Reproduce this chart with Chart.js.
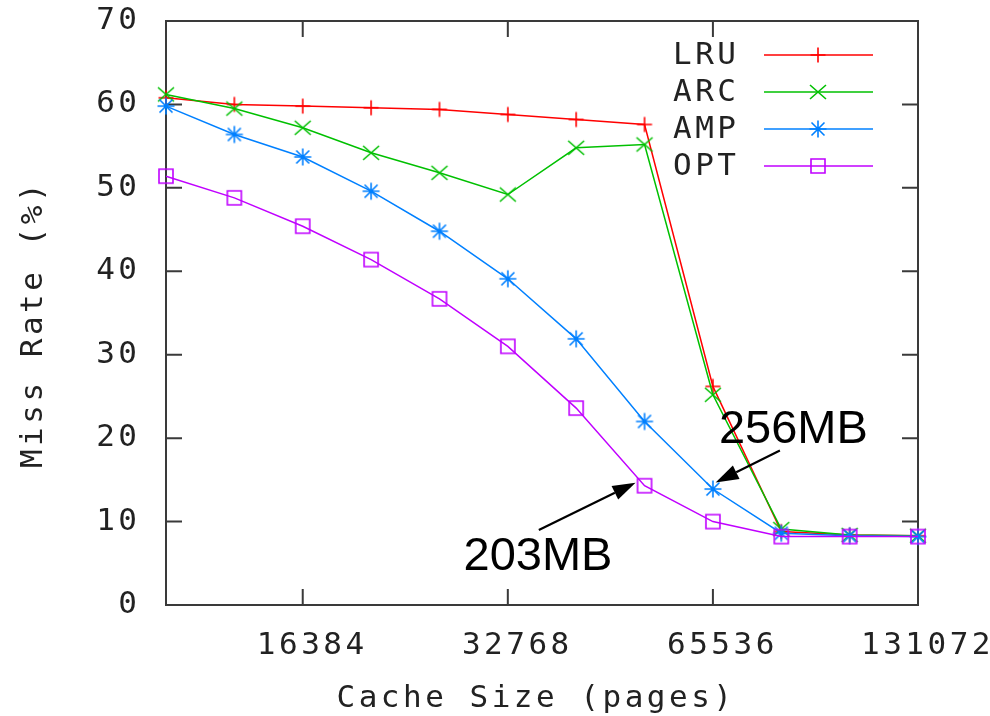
<!DOCTYPE html>
<html>
<head>
<meta charset="utf-8">
<script src="https://cdn.jsdelivr.net/npm/chart.js@4.4.1/dist/chart.umd.min.js"></script>
<style>
html,body{margin:0;padding:0;background:#ffffff;}
canvas{display:block;}
</style>
</head>
<body>
<canvas id="c" width="990" height="716"></canvas>
<script>
// ---- data ----
const cacheSizes = [10321, 13004, 16384, 20643, 26008, 32768, 41285, 52016, 65536, 82570, 104032, 131072];
const lruMiss = [60.8, 60.0, 59.8, 59.6, 59.4, 58.8, 58.2, 57.6, 26.2, 8.8, 8.4, 8.3];
const arcMiss = [61.2, 59.5, 57.2, 54.2, 51.8, 49.2, 54.8, 55.2, 25.2, 9.1, 8.4, 8.3];
const ampMiss = [59.8, 56.4, 53.7, 49.6, 44.8, 39.1, 31.9, 22.0, 13.9, 8.6, 8.3, 8.2];
const optMiss = [51.4, 48.8, 45.4, 41.4, 36.7, 31.0, 23.6, 14.3, 10.0, 8.2, 8.2, 8.2];
const seriesNames = ['LRU', 'ARC', 'AMP', 'OPT'];
const xTickValues = [16384, 32768, 65536, 131072];
const yTickValues = [0, 10, 20, 30, 40, 50, 60, 70];
const xTitle = 'Cache Size (pages)';
const yTitle = 'Miss Rate (%)';
const annotationTexts = ['256MB', '203MB'];

// ---- styling ----
const MONO = "'DejaVu Sans Mono', 'Liberation Mono', monospace";
const TEXT_SIZE = 31;
const SPACING = '3.5px';
const TEXT_COLOR = '#222222';
const FRAME_COLOR = '#3a3a3a';
const colors = ['#ff0000', '#00c000', '#0080ff', '#c000ff'];

function makeMarker(kind, color) {
  const c = document.createElement('canvas');
  c.width = 24; c.height = 24;
  const g = c.getContext('2d');
  g.strokeStyle = color; g.fillStyle = color; g.lineWidth = 1.6;
  const m = 12;
  g.beginPath();
  if (kind === 'plus') { g.moveTo(m - 7.5, m); g.lineTo(m + 7.5, m); g.moveTo(m, m - 7.5); g.lineTo(m, m + 7.5); }
  if (kind === 'star') { g.moveTo(m - 8.5, m); g.lineTo(m + 8.5, m); g.moveTo(m, m - 8.5); g.lineTo(m, m + 8.5);
                         g.moveTo(m - 6.5, m - 6.5); g.lineTo(m + 6.5, m + 6.5); g.moveTo(m - 6.5, m + 6.5); g.lineTo(m + 6.5, m - 6.5); }
  if (kind === 'cross') { g.moveTo(m - 8, m - 7); g.lineTo(m + 8, m + 7); g.moveTo(m - 8, m + 7); g.lineTo(m + 8, m - 7); }
  if (kind === 'square') { g.rect(m - 7, m - 7, 14, 14); }
  g.stroke();
  if (kind === 'star') { g.beginPath(); g.arc(m, m, 2.3, 0, Math.PI * 2); g.fill(); }
  return c;
}
const markerKinds = ['plus', 'cross', 'star', 'square'];
const seriesValues = [lruMiss, arcMiss, ampMiss, optMiss];

const datasets = seriesValues.map((vals, i) => ({
  label: seriesNames[i],
  data: cacheSizes.map((x, k) => ({ x: x, y: vals[k] })),
  borderColor: colors[i],
  backgroundColor: colors[i],
  borderWidth: 1.5,
  tension: 0,
  pointStyle: makeMarker(markerKinds[i], colors[i]),
  pointRadius: 8,
  pointHoverRadius: 8,
  clip: false,
  order: 4 - i
}));

function arrow(ctx, x1, y1, x2, y2) {
  const ang = Math.atan2(y2 - y1, x2 - x1);
  const hl = 23, hw = 7.5;
  const bx = x2 - hl * Math.cos(ang), by = y2 - hl * Math.sin(ang);
  ctx.beginPath();
  ctx.moveTo(x1, y1); ctx.lineTo(bx, by);
  ctx.lineWidth = 2.2; ctx.strokeStyle = '#000'; ctx.stroke();
  ctx.beginPath();
  ctx.moveTo(x2, y2);
  ctx.lineTo(bx + hw * Math.sin(ang), by - hw * Math.cos(ang));
  ctx.lineTo(bx - hw * Math.sin(ang), by + hw * Math.cos(ang));
  ctx.closePath(); ctx.fillStyle = '#000'; ctx.fill();
}

function zeroPad(s) {
  s.paddingLeft = 0; s.paddingRight = 0; s.paddingTop = 0; s.paddingBottom = 0;
}

const deco = {
  id: 'gnuplotDeco',
  beforeUpdate(chart) { chart.ctx.letterSpacing = SPACING; },
  beforeLayout(chart) { chart.ctx.letterSpacing = SPACING; },
  beforeDraw(chart) { chart.ctx.letterSpacing = SPACING; },
  beforeDatasetsDraw(chart) {
    const ctx = chart.ctx, a = chart.chartArea;
    const xs = chart.scales.x, ys = chart.scales.y;
    ctx.save();
    ctx.strokeStyle = FRAME_COLOR;
    ctx.lineWidth = 2;
    ctx.strokeRect(a.left, a.top, a.right - a.left, a.bottom - a.top);
    ctx.beginPath();
    const tl = 16;
    yTickValues.forEach(v => {
      const y = ys.getPixelForValue(v);
      ctx.moveTo(a.left, y); ctx.lineTo(a.left + tl, y);
      ctx.moveTo(a.right, y); ctx.lineTo(a.right - tl, y);
    });
    xTickValues.forEach(v => {
      const x = xs.getPixelForValue(v);
      ctx.moveTo(x, a.bottom); ctx.lineTo(x, a.bottom - tl);
      ctx.moveTo(x, a.top); ctx.lineTo(x, a.top + tl);
    });
    ctx.stroke();
    ctx.restore();
  },
  afterDraw(chart) {
    const ctx = chart.ctx, a = chart.chartArea;
    const xs = chart.scales.x, ys = chart.scales.y;
    ctx.save();
    ctx.letterSpacing = SPACING;
    ctx.font = TEXT_SIZE + 'px ' + MONO;
    ctx.fillStyle = TEXT_COLOR;
    // axis titles
    ctx.textAlign = 'center';
    ctx.textBaseline = 'middle';
    ctx.fillText(xTitle, (a.left + a.right) / 2 - 6, a.bottom + 94);
    ctx.save();
    ctx.translate(34, (a.top + a.bottom) / 2 + 11);
    ctx.rotate(-Math.PI / 2);
    ctx.fillText(yTitle, 0, 0);
    ctx.restore();
    // legend
    chart.data.datasets.forEach((ds, i) => {
      const y = a.top + 34 + i * 37;
      ctx.textAlign = 'left';
      ctx.fillStyle = TEXT_COLOR;
      ctx.fillText(ds.label, a.right - 245, y + 1);
      ctx.beginPath();
      ctx.moveTo(a.right - 154, y); ctx.lineTo(a.right - 45, y);
      ctx.strokeStyle = ds.borderColor; ctx.lineWidth = 1.5; ctx.stroke();
      const img = ds.pointStyle;
      ctx.drawImage(img, a.right - 100 - img.width / 2, y - img.height / 2);
    });
    // annotations
    ctx.letterSpacing = '0px';
    ctx.font = "47px 'Liberation Sans', Arial, sans-serif";
    ctx.fillStyle = '#000';
    ctx.textAlign = 'left';
    ctx.textBaseline = 'alphabetic';
    const pA = { x: xs.getPixelForValue(cacheSizes[8]), y: ys.getPixelForValue(ampMiss[8]) };
    ctx.fillText(annotationTexts[0], pA.x + 6, pA.y - 46);
    arrow(ctx, pA.x + 67, pA.y - 38.6, pA.x + 2.7, pA.y - 6.6);
    const pO = { x: xs.getPixelForValue(cacheSizes[7]), y: ys.getPixelForValue(optMiss[7]) };
    ctx.fillText(annotationTexts[1], pO.x - 181, pO.y + 84);
    arrow(ctx, pO.x - 105.7, pO.y + 44.3, pO.x - 9, pO.y - 3);
    ctx.restore();
  }
};

const ctx0 = document.getElementById('c').getContext('2d');
ctx0.letterSpacing = SPACING;

new Chart(ctx0, {
  type: 'line',
  data: { datasets: datasets },
  plugins: [deco],
  options: {
    responsive: false,
    devicePixelRatio: 1,
    animation: false,
    events: [],
    layout: { padding: { left: 0, top: 21, right: 72, bottom: 0 } },
    plugins: { legend: { display: false }, tooltip: { enabled: false }, title: { display: false } },
    scales: {
      x: {
        type: 'logarithmic',
        min: cacheSizes[0],
        max: cacheSizes[cacheSizes.length - 1],
        afterBuildTicks: s => { s.ticks = xTickValues.map(v => ({ value: v })); },
        afterFit: s => { s.height = 111; zeroPad(s); },
        ticks: {
          callback: v => String(v),
          font: { family: MONO, size: TEXT_SIZE },
          color: TEXT_COLOR,
          padding: 22,
          labelOffset: 9.5,
          maxRotation: 0,
          autoSkip: false
        },
        grid: { display: false, drawTicks: false },
        border: { display: false }
      },
      y: {
        type: 'linear',
        min: 0,
        max: 70,
        afterBuildTicks: s => { s.ticks = yTickValues.map(v => ({ value: v })); },
        afterFit: s => { s.width = 166; zeroPad(s); },
        ticks: {
          callback: v => String(v),
          font: { family: MONO, size: TEXT_SIZE },
          color: TEXT_COLOR,
          padding: 25.5
        },
        grid: { display: false, drawTicks: false },
        border: { display: false }
      }
    }
  }
});
</script>
</body>
</html>
